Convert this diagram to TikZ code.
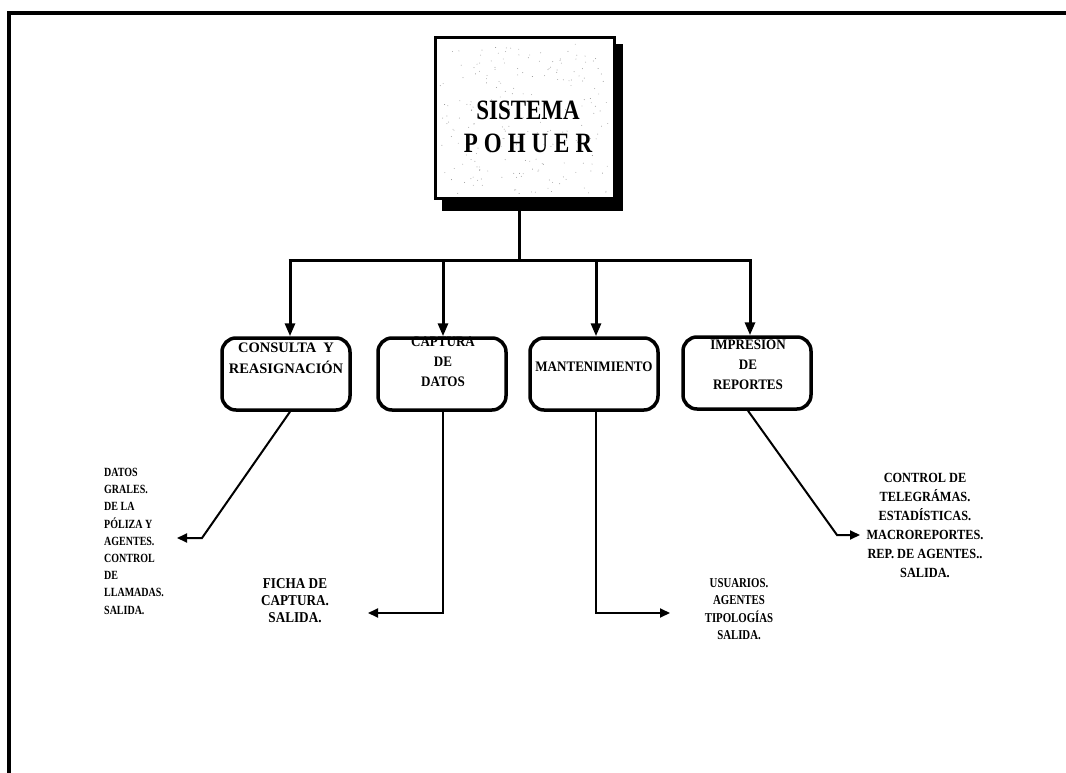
\documentclass[tikz,border=0pt]{standalone}
\usepackage{fontspec}
\setmainfont{Liberation Serif}
\newfontfamily\titlefont{Liberation Serif Bold}[FakeStretch=0.82]
\newfontfamily\boxfont{Liberation Serif Bold}[FakeStretch=0.9]
\newfontfamily\widefont{Liberation Serif Bold}
\newfontfamily\notefont{Liberation Serif Bold}[FakeStretch=0.88]
\newfontfamily\narrowfont{Liberation Serif Bold}[FakeStretch=0.8]
\usetikzlibrary{arrows.meta,calc}

\tikzset{
  frameline/.style={line width=3.5pt},
  heavyline/.style={line width=3pt},
  branch/.style={line width=3pt, -{Triangle[length=13pt,width=10pt]}},
  outline/.style={line width=2pt, -{Triangle[length=10pt,width=9pt]}},
  modbox/.style={draw, line width=3.5pt, rounded corners=14pt,
    minimum width=128pt, minimum height=72pt, inner sep=0pt},
  boxtext/.style={font=\boxfont\fontsize{14.5}{20}\selectfont, align=center, inner sep=0pt, anchor=north},
  notetext/.style={font=\notefont\fontsize{14}{19}\selectfont, inner sep=0pt, anchor=north}
}

\begin{document}
\begin{tikzpicture}[x=1pt,y=-1pt]
\useasboundingbox (0,0) rectangle (1066,773);

% page frame: top and left rules
\draw[frameline] (1066,13) -- (9,13) -- (9,773);

% main system box with drop shadow and speckled face
\node[minimum width=178pt, minimum height=160pt, inner sep=0pt] (sys) at (525,118) {};
\fill ($(sys.south west)+(6,-1)$) rectangle ($(sys.south east)+(9,13)$);
\fill ($(sys.north east)+(-1,6)$) rectangle ($(sys.south east)+(9,0)$);
\fill[white] (sys.south west) rectangle (sys.north east);
\pgfmathsetseed{4217}
\foreach \i in {1,...,220}{
  \fill[black!45] ({440+168*rnd},{44+150*rnd}) circle (0.45pt);
}
\draw[heavyline] (sys.south west) rectangle (sys.north east);
\node[font=\titlefont\fontsize{28}{32}\selectfont, inner sep=0pt] (t1txt) at (528,110) {SISTEMA};
\node[font=\titlefont\fontsize{28}{32}\selectfont, inner sep=0pt] (t2txt) at (528,143)
  {P\kern6pt O\kern6pt H\kern6pt U\kern6pt E\kern6pt R};

% module boxes
\node[modbox] (b1) at (286,374) {};
\node[modbox] (b2) at (442,374) {};
\node[modbox] (b3) at (594,374) {};
\node[modbox] (b4) at (747,373) {};

\node[boxtext, font=\widefont\fontsize{14.5}{21}\selectfont] (b1t) at (286,343)
  {CONSULTA\hspace{7pt}Y\\REASIGNACIÓN};
\node[boxtext] (b2t) at (443,337) {CAPTURA\\DE\\DATOS};
\node[boxtext] (b3t) at (594,362) {MANTENIMIENTO};
\node[boxtext] (b4t) at (748,337) {IMPRESIÓN\\DE\\REPORTES};

% tree from the system box to the modules
\coordinate (j) at (519,260);
\coordinate (k1) at (290,260);
\coordinate (k2) at (443,260);
\coordinate (k3) at (596,260);
\coordinate (k4) at (750,260);
\draw[heavyline] (j |- sys.south) -- (j);
\draw[heavyline] ([xshift=-1.5pt]k1) -- ([xshift=1.5pt]k4);
\draw[branch] (k1) -- (k1 |- b1.north);
\draw[branch] (k2) -- (k2 |- b2.north);
\draw[branch] (k3) -- (k3 |- b3.north);
\draw[branch] (k4) -- (k4 |- b4.north);

% outputs of each module
\node[notetext, anchor=north west, align=left, font=\narrowfont\fontsize{12.5}{17.2}\selectfont] (o1) at (104,468)
  {DATOS\\GRALES.\\DE LA\\PÓLIZA Y\\AGENTES.\\CONTROL\\DE\\LLAMADAS.\\SALIDA.};
\node[notetext, align=center, font=\notefont\fontsize{15}{17}\selectfont] (o2) at (295,578)
  {FICHA DE\\CAPTURA.\\SALIDA.};
\node[notetext, align=center, font=\narrowfont\fontsize{13.5}{17.5}\selectfont] (o3) at (739,578)
  {USUARIOS.\\AGENTES\\TIPOLOGÍAS\\SALIDA.};
\node[notetext, align=center] (o4) at (925,473)
  {CONTROL DE\\TELEGRÁMAS.\\ESTADÍSTICAS.\\MACROREPORTES.\\REP. DE AGENTES..\\SALIDA.};

\coordinate (e1) at (177,538);
\coordinate (e2) at (368,613);
\coordinate (e3) at (670,613);
\coordinate (e4) at (860,535);

\draw[outline] (b1.south -| 290,0) -- (202,538) -- (e1);
\draw[outline] (b2.south -| k2) -- (k2 |- e2) -- (e2);
\draw[outline] (b3.south -| k3) -- (k3 |- e3) -- (e3);
\draw[outline] (b4.south -| 748,0) -- (837,535) -- (e4);
\end{tikzpicture}
\end{document}
